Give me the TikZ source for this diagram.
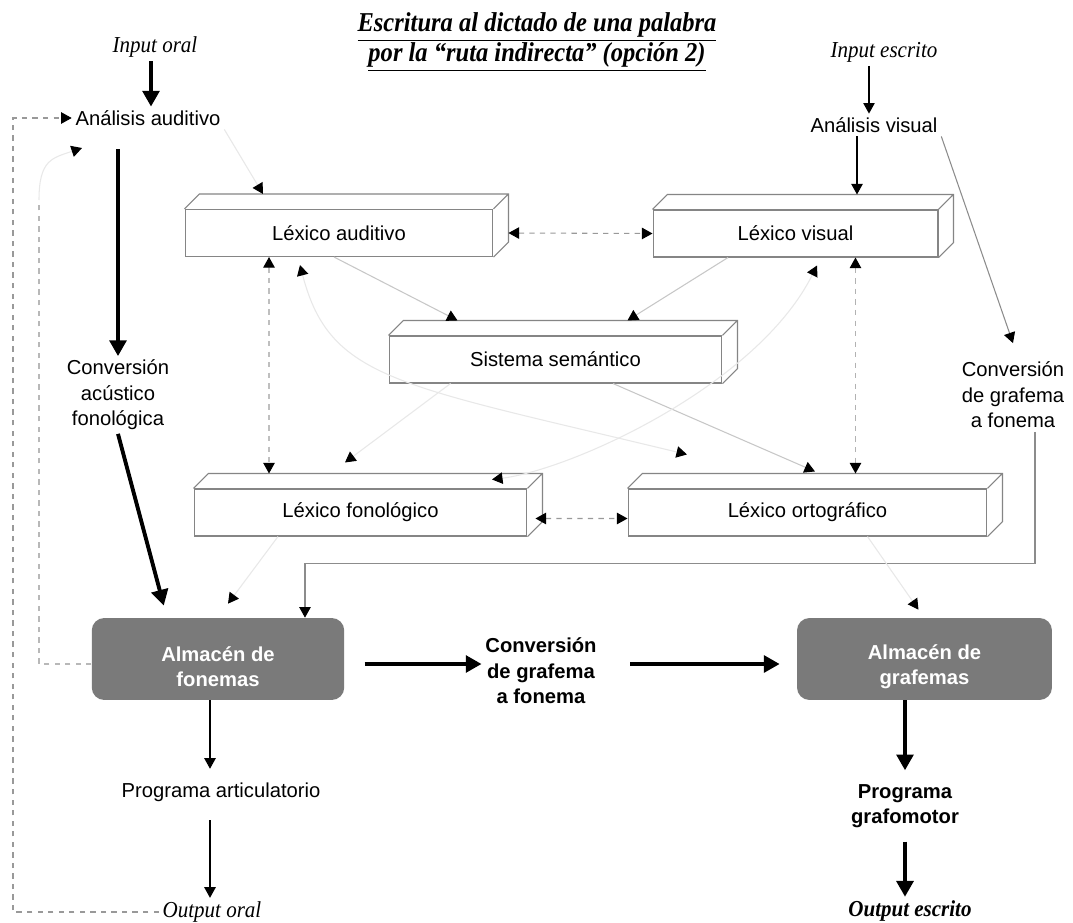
\documentclass[tikz,border=0pt]{standalone}
\usepackage{fontspec}
\setmainfont{Liberation Serif}
\setsansfont{Liberation Sans}
\usetikzlibrary{arrows.meta}

\newcommand\narrow[1]{\scalebox{0.92}[1]{#1}}
% caja "3D" de los lexicos
\newcommand\lexdepth[1]{%
  \draw[boxedge] (#1.north west) -- ++(15,-15) -| ([shift={(15,-15)}]#1.south east) -- (#1.south east)
    (#1.north east) -- ++(15,-15);
  \coordinate (#1-top) at ([yshift=0.3cm]#1.north);}

\tikzset{
  hd/.tip={Triangle[length=6pt,width=6.5pt,color=black]},
  bighd/.tip={Triangle[length=9pt,width=9.5pt,color=black]},
}

\begin{document}
\begin{tikzpicture}[x=0.02cm,y=-0.02cm,
    txt/.style={font=\sffamily\fontsize{11.5}{14.5}\selectfont,align=center,inner sep=2pt},
    btxt/.style={txt,font=\sffamily\bfseries\fontsize{11.5}{14.5}\selectfont},
    ital/.style={font=\itshape\fontsize{13}{15}\selectfont,inner sep=2pt},
    boxedge/.style={draw=black!48,line width=0.6pt},
    lexbox/.style={txt,boxedge,minimum height=0.94cm},
    store/.style={btxt,text=white,fill=black!52,rounded corners=0.25cm,minimum width=5.05cm,minimum height=1.64cm},
    thinarr/.style={draw=black,line width=0.6pt,-{hd}},
    thickarr/.style={draw=black,line width=2.2pt,-{bighd}},
    greyarr/.style={draw=black!45,line width=0.6pt,-{hd}},
    paleline/.style={draw=black!22,line width=0.6pt},
    faintline/.style={draw=black!9,line width=0.6pt},
    dashline/.style={draw=black!40,line width=0.6pt,dashed}]
    \fill[white] (0,0) rectangle (1073,923);
    \useasboundingbox (0,0) rectangle (1073,923);

    \node[font=\bfseries\itshape\fontsize{15.5}{15.4}\selectfont,align=center] (titulo) at (537,42)
        {\scalebox{0.9}[1]{\underline{Escritura al dictado de una palabra}}\\ \scalebox{0.9}[1]{\underline{por la “ruta indirecta” (opción 2)}}};

    \node[ital] (ioral) at (155,47) {\narrow{Input oral}};
    \node[ital] (iesc) at (884,52) {\narrow{Input escrito}};
    \node[txt] (aaud) at (148,118) {Análisis auditivo};
    \node[txt] (avis) at (874,125) {Análisis visual};

    \node[lexbox,minimum width=6.16cm] (lexaud) at (339,233) {Léxico auditivo};
    \node[lexbox,minimum width=5.7cm] (lexvis) at (795.5,233.5) {Léxico visual};
    \node[lexbox,minimum width=6.66cm] (semsis) at (555.5,359.5) {Sistema semántico};
    \node[lexbox,minimum width=6.66cm] (lexfon) at (360.5,512.5) {Léxico fonológico};
    \node[lexbox,minimum width=7.18cm] (lexort) at (807.5,512.5) {Léxico ortográfico};
    \foreach \n in {lexaud,lexvis,semsis,lexfon,lexort} {\lexdepth{\n}}

    \node[txt] (convac) at (118,395) {Conversión\\acústico\\fonológica};
    \node[txt] (convgf) at (1013,395) {Conversión\\de grafema\\a fonema};

    \node[store] (almfon) at (218,659) {\rule{0pt}{17pt}Almacén de\\fonemas};
    \node[store,minimum width=5.1cm] (almgraf) at (924.5,659) {\rule{0pt}{17pt}Almacén de\\grafemas};
    \node[btxt] (convc) at (541,671) {Conversión\\de grafema\\a fonema};

    \node[txt] (progart) at (221,792) {Programa articulatorio};
    \node[ital] (oral) at (212,912) {\narrow{Output oral}};
    \node[btxt] (proggraf) at (905,806) {Programa\\grafomotor};
    \node[ital,font=\bfseries\itshape\fontsize{13}{15}\selectfont] (escr) at (910,911) {\narrow{Output escrito}};

    \coordinate (bucle) at (13,912);
    \coordinate (retro) at (39,200);
    \coordinate (eje) at ([yshift=-0.1cm]almfon.east);
    \coordinate (xart) at ([xshift=-0.16cm]almfon.south);

    % ruta activa
    \draw[thickarr] ([xshift=-0.08cm]ioral.south) -- ([xshift=-0.08cm]ioral.south |- aaud.north);
    \draw[thickarr,shorten <=0.4cm] (aaud.south -| convac.north) -- (convac.north);
    \draw[thickarr,shorten >=0.25cm] (convac.south) -- ([xshift=-1.02cm]almfon.north);
    \draw[thickarr,shorten <=0.4cm] (eje) -- (eje -| convc.west);
    \draw[thickarr,shorten >=0.34cm] ([xshift=0.6cm]eje -| convc.east) -- (eje -| almgraf.west);
    \draw[thickarr,shorten >=0.2cm] (almgraf.south -| proggraf.north) -- (proggraf.north);
    \draw[thickarr,shorten <=0.2cm] (proggraf.south) -- (proggraf.south |- escr.north);

    % entrada visual
    \draw[thinarr] ([xshift=-0.3cm]iesc.south) -- ([xshift=-0.3cm]iesc.south |- avis.north);
    \draw[thinarr] ([xshift=-0.34cm]avis.south) -- ([xshift=-0.34cm]avis.south |- lexvis-top);
    \draw[greyarr] (avis.south east) -- ([yshift=0.3cm]convgf.north);
    \draw[greyarr] ([xshift=0.44cm]convgf.south) -- ++(0,132) -| ([xshift=1.74cm]almfon.north);

    % salida oral y bucles
    \draw[thinarr,shorten >=0.2cm] (xart) -- (xart |- progart.north);
    \draw[thinarr,shorten <=0.3cm] (xart |- progart.south) -- (xart |- oral.north);
    \draw[dashline,-{hd}] (oral.west) -- (bucle) |- (aaud.west);
    \draw[dashline,draw=black!28] ([yshift=-0.1cm]almfon.west) -| (retro);
    \draw[faintline,-{hd}] (retro) .. controls +(0,-40) and +(-30,10) .. ([shift={(-66,30)}]aaud.center);

    % conexiones entre lexicos
    \draw[faintline,-{hd}] (aaud.south east) -- ([shift={(-76,-15)}]lexaud.north);
    \draw[paleline,-{hd}] ([xshift=-0.1cm]lexaud.south) -- ([shift={(-98,-15)}]semsis.north);
    \draw[paleline,-{hd}] ([xshift=-1.35cm]lexvis.south) -- ([shift={(72,-15)}]semsis.north);
    \draw[dashline,{hd}-{hd}] ([xshift=0.3cm]lexaud.east) -- (lexvis.west);
    \draw[dashline,draw=black!25,{hd}-{hd}] ([xshift=-1.4cm]lexaud.south) -- ([xshift=-1.4cm]lexaud.south |- lexfon-top);
    \draw[dashline,draw=black!30,{hd}-{hd}] ([xshift=1.2cm]lexvis.south) -- ([xshift=1.2cm]lexvis.south |- lexort-top);
    \draw[dashline,{hd}-{hd}] ([shift={(8,6)}]lexfon.east) -- ([yshift=-0.12cm]lexort.west);
    \draw[faintline,-{hd}] ([xshift=-2.1cm]semsis.south) -- ([shift={(-15.5,-26)}]lexfon.north);
    \draw[paleline,-{hd}] ([xshift=1.15cm]semsis.south) -- ([shift={(7.5,-17)}]lexort.north);
    \draw[faintline,{hd}-{hd}] ([shift={(21.5,8)}]lexvis.south) .. controls +(-60,120) and +(80,-10) .. ([shift={(131.5,-9)}]lexfon.north);
    \draw[faintline,{hd}-{hd}] ([shift={(-39,8)}]lexaud.south) .. controls +(30,115) and +(-290,-70) .. ([shift={(-120.5,-34)}]lexort.north);
    \draw[faintline,-{hd}] ([xshift=-1.65cm]lexfon.south) -- ([shift={(10,-14)}]almfon.north);
    \draw[faintline,-{hd}] ([xshift=1.2cm]lexort.south) -- ([shift={(-6,-8)}]almgraf.north);
\end{tikzpicture}
\end{document}
